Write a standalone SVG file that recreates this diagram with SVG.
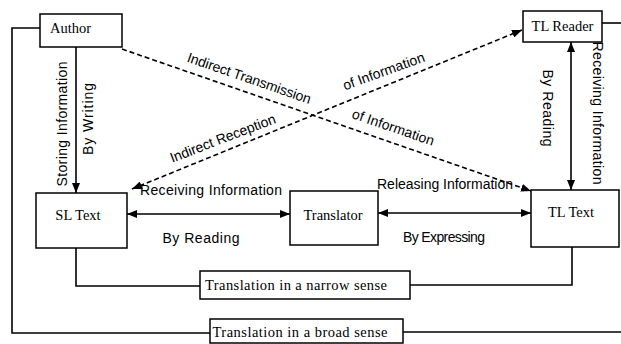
<svg xmlns="http://www.w3.org/2000/svg" width="621" height="344" viewBox="0 0 621 344">
<defs>
<marker id="ah" viewBox="0 0 10 8" refX="10" refY="4" markerWidth="10" markerHeight="8" markerUnits="userSpaceOnUse" orient="auto-start-reverse">
<path d="M0,0 L10,4 L0,8 Z" fill="#000"/>
</marker>
</defs>
<style>
.box{fill:#fff;stroke:#000;stroke-width:1.5}
.ln{fill:none;stroke:#000;stroke-width:1.6}
.dash{fill:none;stroke:#000;stroke-width:1.6;stroke-dasharray:5 3}
.bt{font-family:"Liberation Serif",serif;font-size:14.5px;fill:#000}
.st{font-family:"Liberation Serif",serif;font-size:14.5px;fill:#000}
.lb{font-family:"Liberation Sans",sans-serif;font-size:14px;fill:#000}
</style>
<rect width="621" height="344" fill="#fff"/>
<g id="connectors">
<polyline class="ln" points="40,28 12,28 12,333 210,333"/>
<line class="ln" x1="403" y1="332" x2="621" y2="332"/>
<line class="ln" x1="602" y1="23" x2="621" y2="23"/>
<polyline class="ln" points="76,248 76,286 200,286"/>
<polyline class="ln" points="410,285 572,285 572,247"/>
<line class="ln" x1="76" y1="47" x2="76" y2="193" marker-end="url(#ah)"/>
<line class="ln" x1="127" y1="214" x2="290" y2="214" marker-start="url(#ah)" marker-end="url(#ah)"/>
<line class="ln" x1="378" y1="213" x2="531" y2="213" marker-start="url(#ah)" marker-end="url(#ah)"/>
<line class="ln" x1="571" y1="42" x2="571" y2="190" marker-start="url(#ah)" marker-end="url(#ah)"/>
<line class="dash" x1="122" y1="49" x2="531" y2="191" marker-end="url(#ah)"/>
<line class="dash" x1="132" y1="189" x2="522" y2="30" marker-start="url(#ah)" marker-end="url(#ah)"/>
</g>
<g id="author"><rect class="box" x="40" y="14" width="82" height="33"/><text class="bt" x="50" y="33">Author</text></g>
<g id="tl-reader"><rect class="box" x="523" y="11" width="79" height="31"/><text class="bt" x="562.5" y="31" text-anchor="middle">TL Reader</text></g>
<g id="sl-text"><rect class="box" x="36" y="193" width="91" height="55"/><text class="bt" x="78" y="220" text-anchor="middle">SL Text</text></g>
<g id="translator"><rect class="box" x="290" y="191" width="88" height="54"/><text class="bt" x="333" y="220" text-anchor="middle">Translator</text></g>
<g id="tl-text"><rect class="box" x="531" y="190" width="88" height="57"/><text class="bt" x="571" y="217" text-anchor="middle">TL Text</text></g>
<g id="narrow"><rect class="box" x="200" y="271" width="210" height="28"/><text class="st" x="296" y="290" text-anchor="middle" textLength="182">Translation in a narrow sense</text></g>
<g id="broad"><rect class="box" x="210" y="319" width="193" height="24"/><text class="st" x="300" y="337" text-anchor="middle" textLength="175">Translation in a broad sense</text></g>
<g id="labels">
<text class="lb" transform="translate(249,79) rotate(19)" x="0" y="4" text-anchor="middle" textLength="130">Indirect Transmission</text>
<text class="lb" transform="translate(384,72) rotate(-20)" x="0" y="4" text-anchor="middle" textLength="86">of Information</text>
<text class="lb" transform="translate(223,139) rotate(-21)" x="0" y="4" text-anchor="middle" textLength="112">Indirect Reception</text>
<text class="lb" transform="translate(393,128) rotate(19)" x="0" y="4" text-anchor="middle" textLength="86">of Information</text>
<text class="lb" x="211" y="195" text-anchor="middle" textLength="142">Receiving Information</text>
<text class="lb" x="201" y="243" text-anchor="middle" textLength="77">By Reading</text>
<text class="lb" x="445" y="189" text-anchor="middle" textLength="136">Releasing Information</text>
<text class="lb" x="444" y="242" text-anchor="middle" textLength="82">By Expressing</text>
<text class="lb" transform="translate(62,124) rotate(-90)" x="0" y="5" text-anchor="middle" textLength="125">Storing Information</text>
<text class="lb" transform="translate(88,119) rotate(-90)" x="0" y="5" text-anchor="middle" textLength="72">By Writing</text>
<text class="lb" transform="translate(548,108) rotate(90)" x="0" y="5" text-anchor="middle" textLength="77">By Reading</text>
<text class="lb" transform="translate(598,113) rotate(90)" x="0" y="5" text-anchor="middle" textLength="143">Receiving Information</text>
</g>
</svg>
